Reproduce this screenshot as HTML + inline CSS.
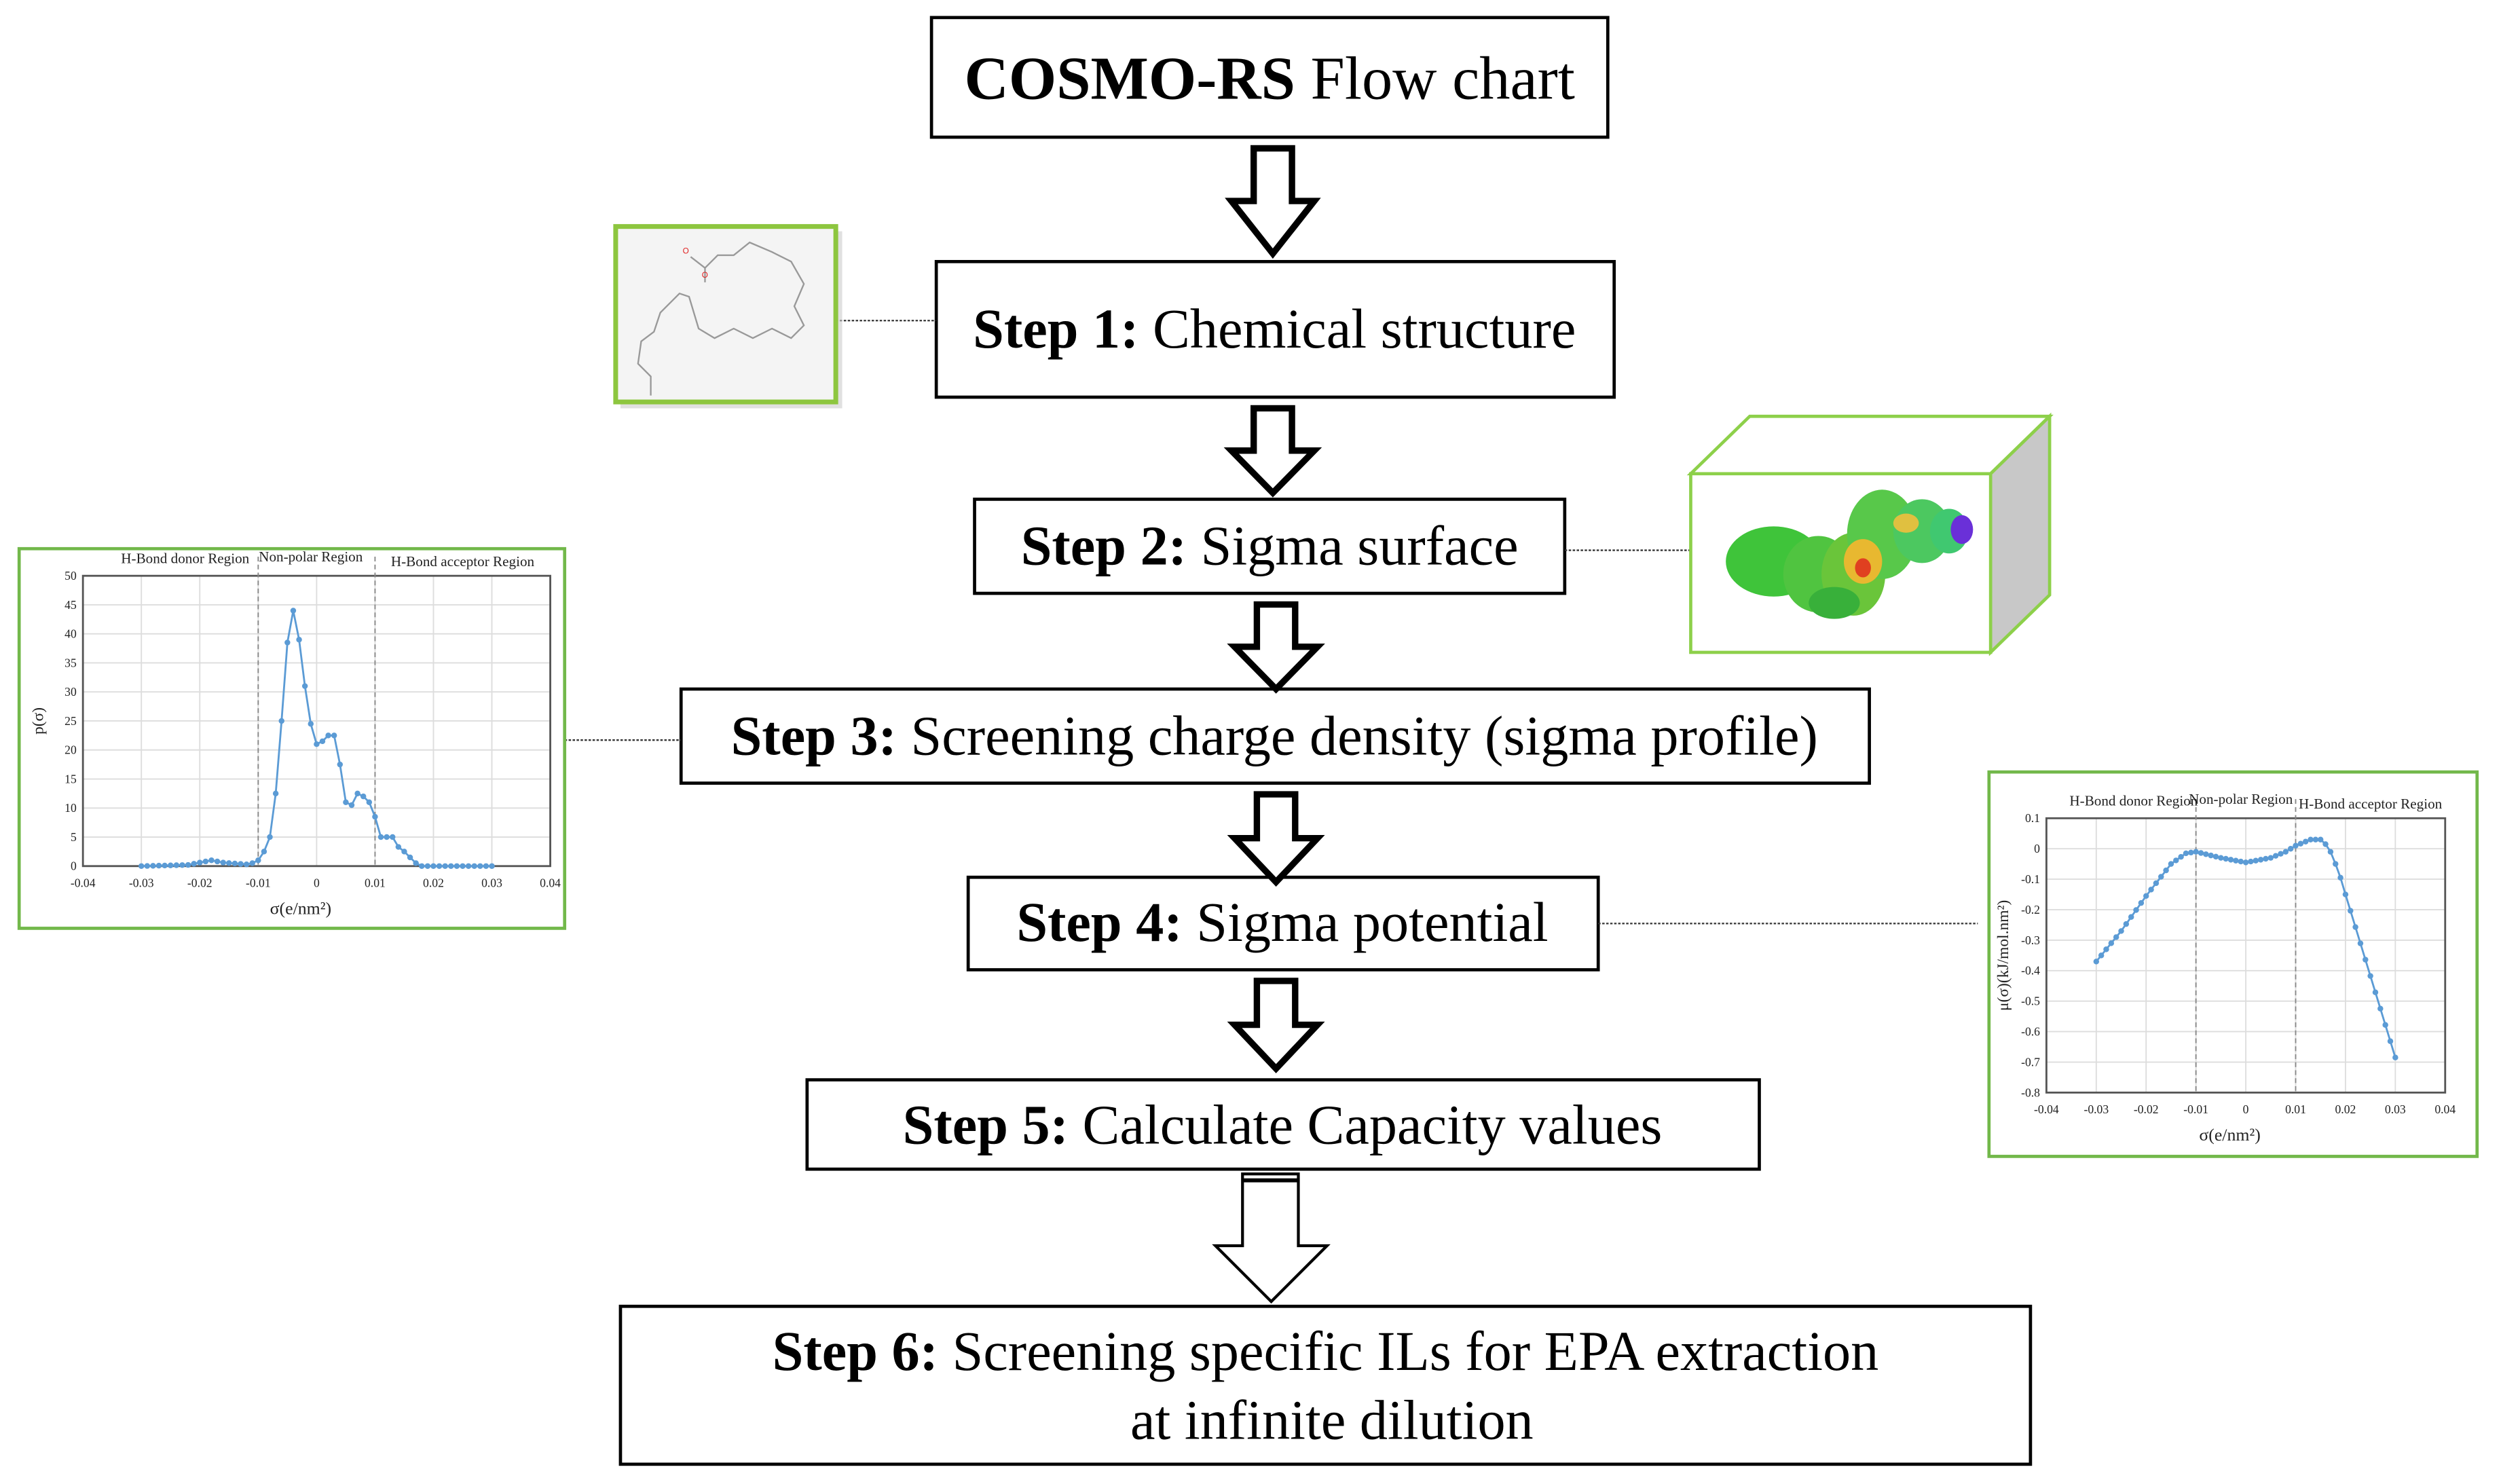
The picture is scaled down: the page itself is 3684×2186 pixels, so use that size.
<!DOCTYPE html>
<html><head><meta charset="utf-8"><style>
html,body{margin:0;padding:0;background:#fff;width:3684px;height:2186px;overflow:hidden}
svg{display:block}
.t{font-family:"Liberation Serif",serif;fill:#000}
.s{font-family:"Liberation Serif",serif;fill:#222}
</style></head><body>
<svg id="sv" width="3684" height="2186" viewBox="0 0 1568 930.4" preserveAspectRatio="none" xmlns="http://www.w3.org/2000/svg">
<g fill="#fff" stroke="#000" stroke-width="2">
<rect x="584" y="11" width="424" height="75"/>
<rect x="587" y="164" width="425" height="85"/>
<rect x="611" y="313" width="370" height="59"/>
<rect x="427" y="432" width="745" height="59"/>
<rect x="607" y="550" width="395" height="58"/>
<rect x="506" y="677" width="597" height="56"/>
<rect x="389" y="819" width="884" height="99"/>
</g>
<text class="t" x="796" y="62" font-size="38.5" text-anchor="middle"><tspan font-weight="bold">COSMO-RS</tspan> Flow chart</text>
<text class="t" x="799" y="218" font-size="35" text-anchor="middle"><tspan font-weight="bold">Step 1:</tspan> Chemical structure</text>
<text class="t" x="796" y="354" font-size="35" text-anchor="middle"><tspan font-weight="bold">Step 2:</tspan> Sigma surface</text>
<text class="t" x="799" y="473" font-size="35" text-anchor="middle"><tspan font-weight="bold">Step 3:</tspan> Screening charge density (sigma profile)</text>
<text class="t" x="804" y="590" font-size="35" text-anchor="middle"><tspan font-weight="bold">Step 4:</tspan> Sigma potential</text>
<text class="t" x="804" y="717" font-size="35" text-anchor="middle"><tspan font-weight="bold">Step 5:</tspan> Calculate Capacity values</text>
<text class="t" x="831" y="859" font-size="35" text-anchor="middle"><tspan font-weight="bold">Step 6:</tspan> Screening specific ILs for EPA extraction</text>
<text class="t" x="835" y="902" font-size="35" text-anchor="middle">at infinite dilution</text>
<g id="arrows" fill="#fff" stroke="#000" stroke-width="4" stroke-linejoin="miter"></g>
<g fill="#fff" stroke="#000" stroke-width="1.8">
<path d="M779,736 H814 V781 H832 L797,816 L762,781 H779 Z"/>
<line x1="779" y1="740" x2="814" y2="740" stroke-width="2.5"/>
</g>
<g stroke="#333" stroke-width="1" stroke-dasharray="1.5,1">
<line x1="524" y1="201" x2="587" y2="201"/>
<line x1="981" y1="345" x2="1060" y2="345"/>
<line x1="354" y1="464" x2="427" y2="464"/>
<line x1="1002" y1="579" x2="1240" y2="579"/>
</g>
<rect x="389" y="145" width="139" height="111" fill="#ccc" opacity="0.6"/>
<rect x="386" y="142" width="138" height="110" fill="#f4f4f4" stroke="#8dc63f" stroke-width="3"/>
<g fill="none" stroke="#999" stroke-width="1">
<polyline points="433,161 442,168 450,160 460,160 470,152 484,158 496,164 504,178 498,192 504,204 496,212 484,206 472,212 460,206 448,212 438,206 432,186 426,184 414,196 410,208 402,214 400,228 408,236 408,248"/>
<line x1="442" y1="168" x2="442" y2="177"/>
</g>
<g font-family="Liberation Sans" font-size="5" fill="#e02020"><text x="428" y="159">O</text><text x="440" y="174">O</text></g>
<polygon points="1060,297 1097,261 1285,261 1248,297" fill="#fff" stroke="#8dd04a" stroke-width="2"/>
<polygon points="1248,297 1285,261 1285,373 1248,409" fill="#c8c8c8" stroke="#8dd04a" stroke-width="2"/>
<rect x="1060" y="297" width="188" height="112" fill="#fff" stroke="#8dd04a" stroke-width="2"/>
<g>
<ellipse cx="1112" cy="352" rx="30" ry="22" fill="#3fc43a"/>
<ellipse cx="1140" cy="360" rx="22" ry="24" fill="#50c440"/>
<ellipse cx="1162" cy="360" rx="20" ry="26" fill="#6ac53a"/>
<ellipse cx="1180" cy="335" rx="22" ry="28" fill="#58c84a"/>
<ellipse cx="1205" cy="333" rx="18" ry="20" fill="#4cc860"/>
<ellipse cx="1222" cy="333" rx="12" ry="14" fill="#40c870"/>
<ellipse cx="1230" cy="332" rx="7" ry="9" fill="#6a30d8"/>
<ellipse cx="1168" cy="352" rx="12" ry="14" fill="#e8b830"/>
<ellipse cx="1168" cy="356" rx="5" ry="6" fill="#e04020"/>
<ellipse cx="1195" cy="328" rx="8" ry="6" fill="#e0c040"/>
<ellipse cx="1150" cy="378" rx="16" ry="10" fill="#38b03a"/>
</g>
<rect x="12" y="344" width="342" height="238" fill="#fff" stroke="#72b84a" stroke-width="2"/>
<g id="lc"></g>
<rect x="1247" y="484" width="306" height="241" fill="#fff" stroke="#72b84a" stroke-width="2"/>
<g id="rc"></g>
</svg>
<script>
var NS="http://www.w3.org/2000/svg";
function el(p,t,a,txt){var e=document.createElementNS(NS,t);for(var k in a)e.setAttribute(k,a[k]);if(txt!==undefined)e.textContent=txt;p.appendChild(e);return e;}
var ar=document.getElementById("arrows");
[[798,93,159],[798,256,309],[800,379,432],[800,498,553],[800,615,670]].forEach(function(a){
var cx=a[0],t=a[1],b=a[2],hy=t+(b-t)*0.5;
el(ar,"path",{d:"M"+(cx-12)+","+t+" H"+(cx+12)+" V"+hy+" H"+(cx+26)+" L"+cx+","+b+" L"+(cx-26)+","+hy+" H"+(cx-12)+" Z"});});
function chart(g,x0,x1,y0,y1,ymin,ymax,ylabs,data,ylab,ylabx){
var X=function(s){return x0+(s+0.04)/0.08*(x1-x0)},Y=function(v){return y0-(v-ymin)/(ymax-ymin)*(y0-y1)};
for(var i=0;i<ylabs.length;i++){var v=ylabs[i];el(g,"line",{x1:x0,x2:x1,y1:Y(v),y2:Y(v),stroke:"#ddd","stroke-width":0.8});el(g,"text",{x:x0-4,y:Y(v)+2.5,"text-anchor":"end",class:"s",style:"font-size:7.5px"},String(v));}
for(var s=-0.04;s<=0.0401;s+=0.01){el(g,"line",{x1:X(s),x2:X(s),y1:y1,y2:y0,stroke:"#ddd","stroke-width":0.8});el(g,"text",{x:X(s),y:y0+13,"text-anchor":"middle",class:"s",style:"font-size:7.5px"},(Math.abs(s)<1e-9?"0":s.toFixed(2)));}
el(g,"rect",{x:x0,y:y1,width:x1-x0,height:y0-y1,fill:"none",stroke:"#555","stroke-width":1.2});
[-0.01,0.01].forEach(function(s){el(g,"line",{x1:X(s),x2:X(s),y1:y1-12,y2:y0,stroke:"#888","stroke-width":0.8,"stroke-dasharray":"3,2"});});
var pts=[];for(var k=0;k<data.length;k++)pts.push(X(data[k][0])+","+Y(data[k][1]));
el(g,"polyline",{points:pts.join(" "),fill:"none",stroke:"#5b9bd5","stroke-width":1.2});
for(k=0;k<data.length;k++)el(g,"circle",{cx:X(data[k][0]),cy:Y(data[k][1]),r:1.8,fill:"#5b9bd5"});
el(g,"text",{x:(x0+x1)/2-10,y:y0+30,"text-anchor":"middle",class:"s",style:"font-size:11px"},"σ(e/nm²)");
el(g,"text",{transform:"translate("+ylabx+","+((y0+y1)/2)+") rotate(-90)","text-anchor":"middle",class:"s",style:"font-size:10px"},ylab);
el(g,"text",{x:X(-0.0225),y:y1-8,"text-anchor":"middle",class:"s",style:"font-size:9px"},"H-Bond donor Region");
el(g,"text",{x:X(-0.001),y:y1-9,"text-anchor":"middle",class:"s",style:"font-size:9px"},"Non-polar Region");
el(g,"text",{x:X(0.025),y:y1-6,"text-anchor":"middle",class:"s",style:"font-size:9px"},"H-Bond acceptor Region");
}
function interp(pts){var out=[];for(var s=-30;s<=30;s++){var x=s/1000;for(var i=0;i<pts.length-1;i++){if(x>=pts[i][0]-1e-9&&x<=pts[i+1][0]+1e-9){var f=(x-pts[i][0])/((pts[i+1][0]-pts[i][0])||1);out.push([x,pts[i][1]+f*(pts[i+1][1]-pts[i][1])]);break;}}}return out;}
var L=interp([[-0.03,0],[-0.022,0.2],[-0.018,1],[-0.016,0.6],[-0.012,0.3],[-0.011,0.5],[-0.01,1],[-0.009,2.5],[-0.008,5],[-0.007,12.5],[-0.006,25],[-0.005,38.5],[-0.004,44],[-0.003,39],[-0.002,31],[-0.001,24.5],[0,21],[0.001,21.5],[0.002,22.5],[0.003,22.5],[0.004,17.5],[0.005,11],[0.006,10.5],[0.007,12.5],[0.008,12],[0.009,11],[0.01,8.5],[0.011,5],[0.013,5],[0.014,3.3],[0.015,2.5],[0.016,1.5],[0.017,0.5],[0.018,0],[0.03,0]]);
chart(document.getElementById("lc"),52,345,543,361,0,50,[0,5,10,15,20,25,30,35,40,45,50],L,"p(σ)",27);
var R=interp([[-0.03,-0.37],[-0.025,-0.27],[-0.02,-0.155],[-0.015,-0.05],[-0.012,-0.015],[-0.01,-0.01],[-0.005,-0.03],[0,-0.045],[0.005,-0.03],[0.008,-0.01],[0.01,0.01],[0.013,0.03],[0.015,0.03],[0.016,0.015],[0.017,-0.01],[0.018,-0.05],[0.019,-0.095],[0.02,-0.15],[0.03,-0.685]]);
chart(document.getElementById("rc"),1283,1533,685,513,-0.8,0.1,[0.1,0,-0.1,-0.2,-0.3,-0.4,-0.5,-0.6,-0.7,-0.8],R,"μ(σ)(kJ/mol.nm²)",1259);
</script>
</body></html>
